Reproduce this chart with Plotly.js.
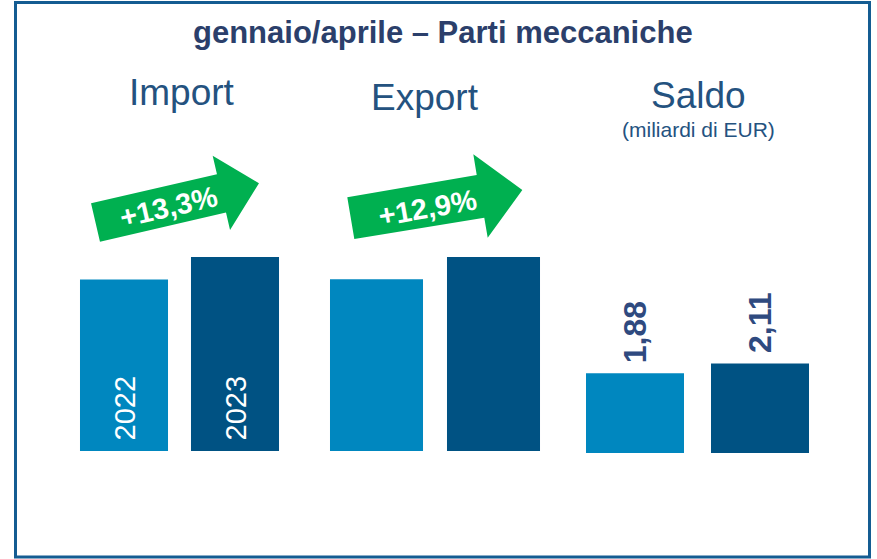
<!DOCTYPE html>
<html>
<head>
<meta charset="utf-8">
<script src="https://cdn.plot.ly/plotly-3.0.1.min.js"></script>
<style>html,body{margin:0;padding:0;background:#fff;}#chart{width:877px;height:559px;}</style>
</head>
<body>
<div id="chart"></div>
<script>
// ---- data ----
const years = ['2022', '2023'];
const panels = ['Import', 'Export', 'Saldo'];
const importValues = [3.10, 3.51];   // miliardi di EUR (stimati)
const exportValues = [4.98, 5.62];   // miliardi di EUR (stimati)
const saldoValues = [1.88, 2.11];    // miliardi di EUR
const saldoLabels = ['1,88', '2,11'];
const growthLabels = ['+13,3%', '+12,9%'];
const chartTitle = 'gennaio/aprile – Parti meccaniche';
const unitLabel = '(miliardi di EUR)';

// ---- style ----
const W = 877, H = 559;
const FONT = 'Liberation Sans, Arial, Helvetica, sans-serif';
const LIGHT = '#0087BF', DARK = '#005283';
const NAVY = '#2B3F6B', PANEL = '#24527F', GREEN = '#00B050';
const px = x => x / W;
const py = y => (H - y) / H;
const pathFrom = pts => 'M ' + pts.map(p => px(p[0]).toFixed(4) + ',' + py(p[1]).toFixed(4)).join(' L ') + ' Z';

const traces = [
  {type: 'bar', x: years, y: importValues, xaxis: 'x', yaxis: 'y', width: 0.793,
   marker: {color: [LIGHT, DARK]}, hoverinfo: 'skip'},
  {type: 'bar', x: years, y: exportValues, xaxis: 'x2', yaxis: 'y2', width: 0.795,
   marker: {color: [LIGHT, DARK]}, hoverinfo: 'skip'},
  {type: 'bar', x: years, y: saldoValues, xaxis: 'x3', yaxis: 'y3', width: 0.784,
   marker: {color: [LIGHT, DARK]}, hoverinfo: 'skip'}
];

const hidden = {visible: false, fixedrange: true, autorange: false};
const paperText = (text, x, y, size, color, extra) => Object.assign({
  text: text, xref: 'paper', yref: 'paper', x: px(x), y: py(y), xanchor: 'center', yanchor: 'middle',
  showarrow: false, font: {family: FONT, size: size, color: color}
}, extra || {});

const annotations = [
  paperText(chartTitle, 443, 32, 31, NAVY, {font: {family: FONT, size: 31, color: NAVY, weight: 'bold'}}),
  paperText(panels[0], 182, 93, 37, PANEL),
  paperText(panels[1], 425, 97, 37, PANEL),
  paperText(panels[2], 698, 95, 37, PANEL),
  paperText(unitLabel, 698, 130, 21, PANEL),
  paperText(growthLabels[0], 168, 207, 29, '#ffffff', {textangle: -13, font: {family: FONT, size: 29, color: '#ffffff', weight: 'bold'}}),
  paperText(growthLabels[1], 427, 208, 29, '#ffffff', {textangle: -10, font: {family: FONT, size: 29, color: '#ffffff', weight: 'bold'}})
];
// year labels inside Import bars (x = category index)
years.forEach((yr, i) => annotations.push({
  text: yr, xref: 'x', yref: 'y', x: i, y: 0, xanchor: 'center', yanchor: 'bottom', yshift: 8,
  textangle: -90, showarrow: false, font: {family: FONT, size: 29, color: '#ffffff'}
}));
// value labels above Saldo bars
years.forEach((yr, i) => annotations.push({
  text: saldoLabels[i], xref: 'x3', yref: 'y3', x: i, y: saldoValues[i], xanchor: 'center', yanchor: 'bottom',
  yshift: 8, textangle: -90, showarrow: false, font: {family: FONT, size: 32, color: '#2F4A7F', weight: 'bold'}
}));

const xr = [-0.5, 1.5];
const layout = {
  width: W, height: H,
  margin: {l: 0, r: 0, t: 0, b: 0},
  paper_bgcolor: '#ffffff', plot_bgcolor: 'rgba(0,0,0,0)',
  showlegend: false,
  xaxis:  Object.assign({type: 'category', range: xr, domain: [px(68.5), px(290.5)], anchor: 'y'}, hidden),
  xaxis2: Object.assign({type: 'category', range: xr, domain: [px(318), px(552)], anchor: 'y2'}, hidden),
  xaxis3: Object.assign({type: 'category', range: xr, domain: [px(572.5), px(822.5)], anchor: 'y3'}, hidden),
  yaxis:  Object.assign({domain: [py(451), py(200)], range: [0, 4.54], anchor: 'x'}, hidden),
  yaxis2: Object.assign({domain: [py(451), py(200)], range: [0, 7.275], anchor: 'x2'}, hidden),
  yaxis3: Object.assign({domain: [py(453), py(200)], range: [0, 5.967], anchor: 'x3'}, hidden),
  shapes: [
    {type: 'rect', xref: 'paper', yref: 'paper', x0: px(15.5), x1: px(869.5), y0: py(557), y1: py(2.5),
     line: {color: '#145C92', width: 3}, fillcolor: 'rgba(0,0,0,0)'},
    {type: 'path', xref: 'paper', yref: 'paper', line: {width: 0}, fillcolor: GREEN,
     path: pathFrom([[100,241.7],[91,203.3],[217,174.3],[212.7,155.7],[259,183.3],[230,230],[226,212.5]])},
    {type: 'path', xref: 'paper', yref: 'paper', line: {width: 0}, fillcolor: GREEN,
     path: pathFrom([[354.3,239],[347.3,197.3],[476.7,175],[473.3,154.3],[522.3,190],[487.7,237.7],[484.3,217.7]])}
  ],
  annotations: annotations
};

Plotly.newPlot('chart', traces, layout, {staticPlot: true, displayModeBar: false});
</script>
</body>
</html>
